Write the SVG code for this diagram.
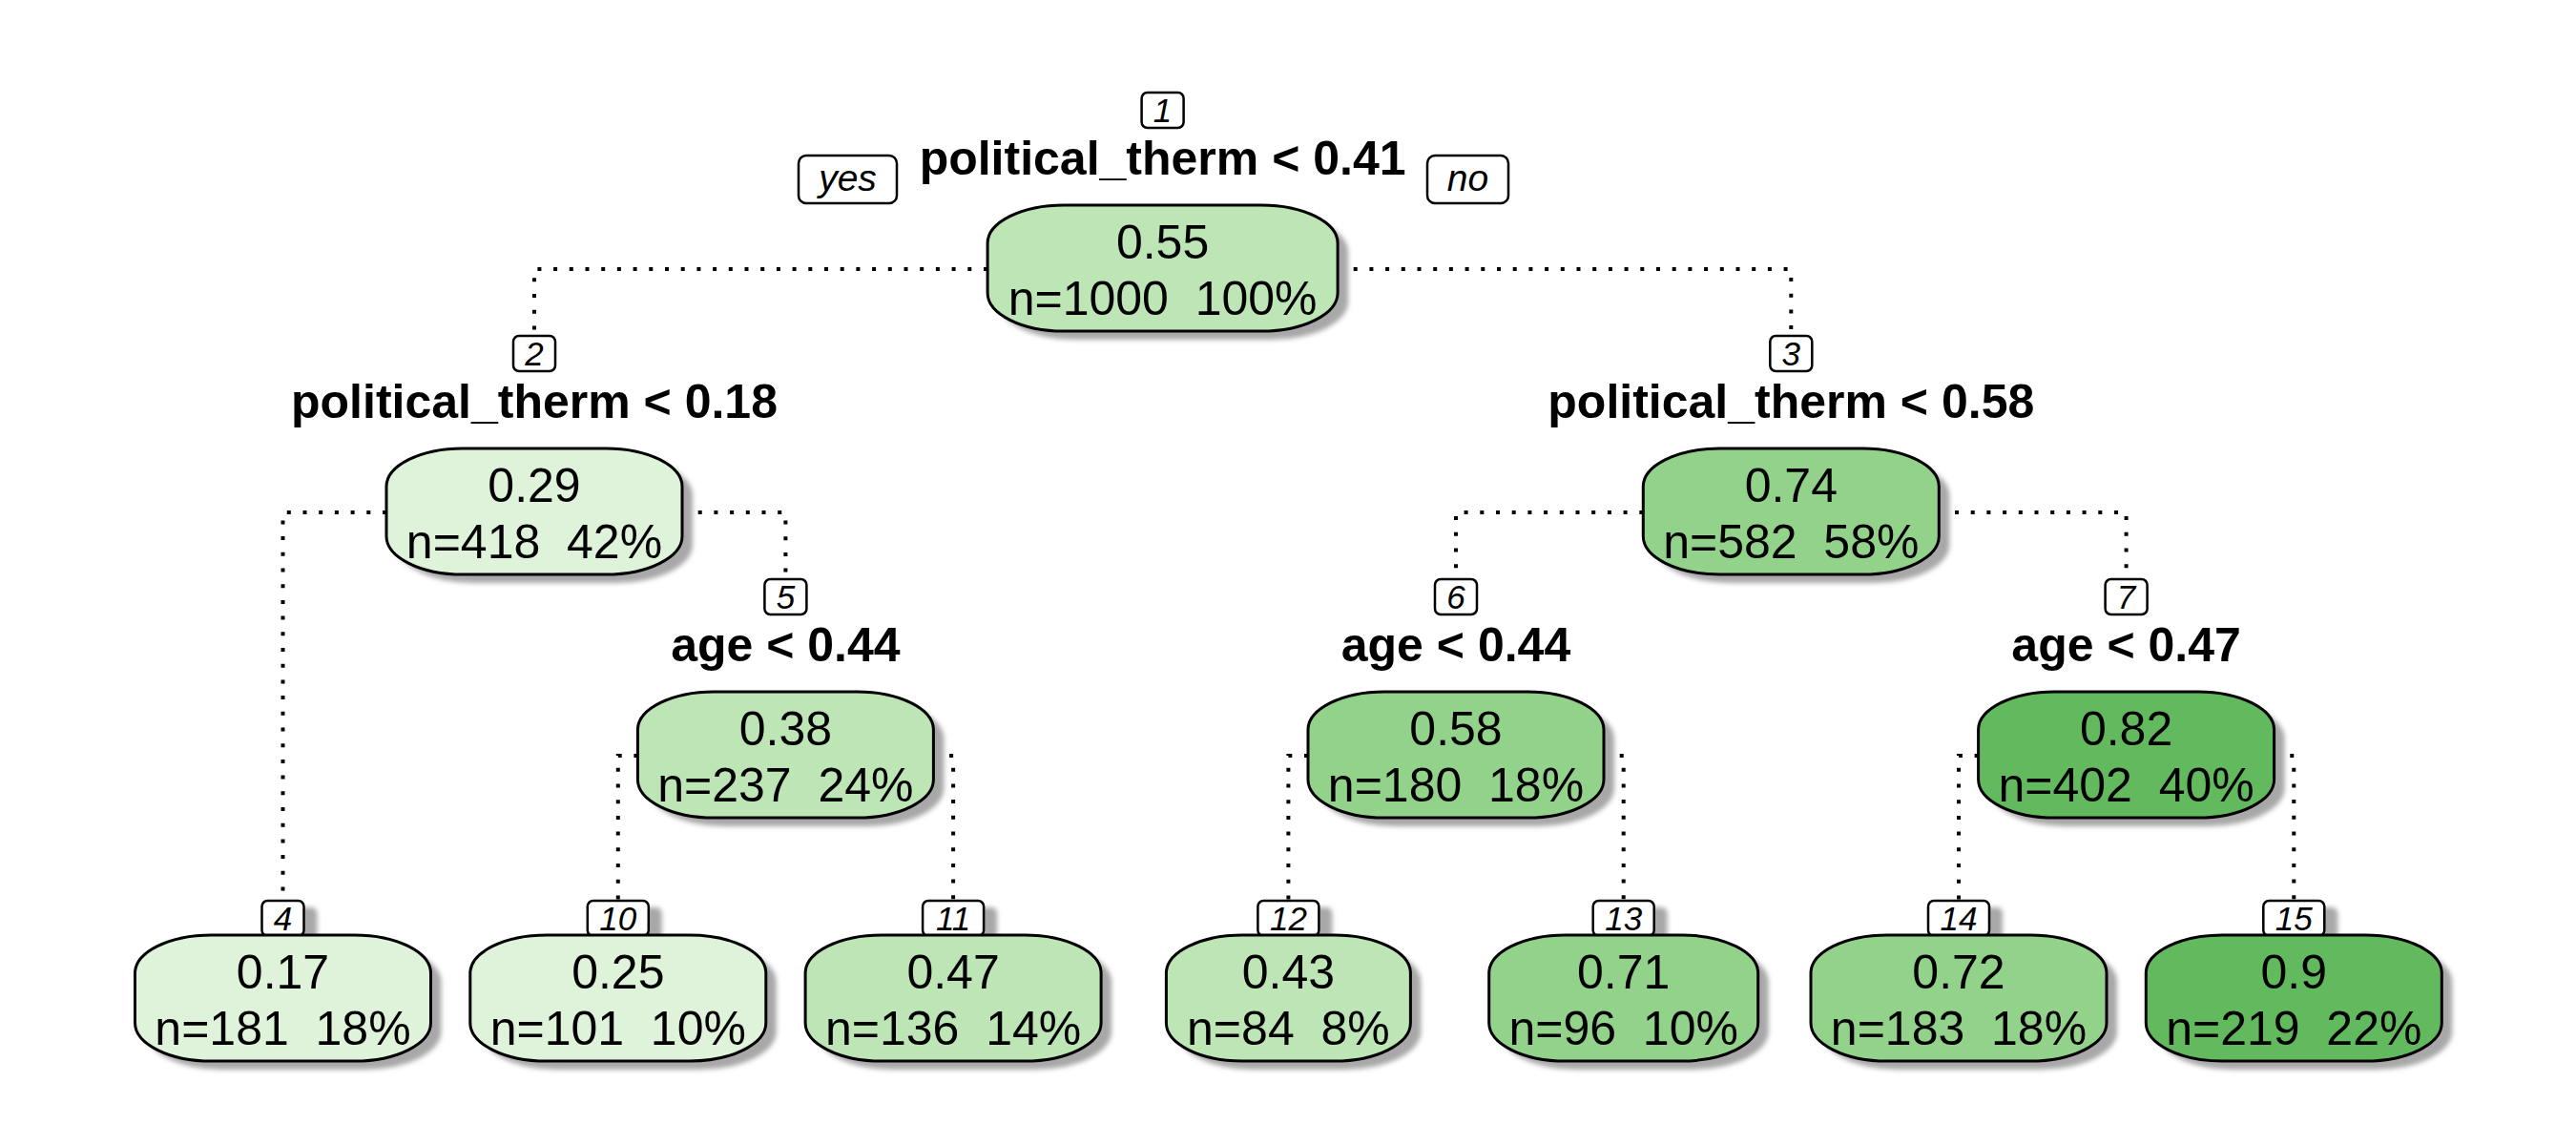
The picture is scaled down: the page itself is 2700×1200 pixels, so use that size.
<svg xmlns="http://www.w3.org/2000/svg" width="2700" height="1200" viewBox="0 0 2700 1200">
<defs>
<filter id="blur" x="-10%" y="-10%" width="120%" height="120%"><feGaussianBlur stdDeviation="2.5"/></filter>
</defs>
<style>
text{font-family:"Liberation Sans",Arial,Helvetica,sans-serif;fill:#000;white-space:pre}
.val{font-size:50px;text-anchor:middle}
.lab{font-size:50px;font-weight:bold;text-anchor:middle}
.num{font-size:35px;font-style:italic;text-anchor:middle}
.yn{font-size:39px;font-style:italic;text-anchor:middle}
.box{stroke:#000;stroke-width:3}
.sh{fill:#a8a8a8;filter:url(#blur)}
.nb{fill:#fff;stroke:#000;stroke-width:2.5}
.c1{fill:#dff2da}
.c2{fill:#bde5b5}
.c3{fill:#93d28a}
.c4{fill:#63ba5e}
.conn{fill:none;stroke:#000;stroke-width:4;stroke-dasharray:4 12.7}
</style>
<rect width="2700" height="1200" fill="#fff"/>
<g id="connectors">
<path class="conn" d="M1035 282 H560 V352"/>
<path class="conn" d="M1402 282 H1877.3 V352"/>
<path class="conn" d="M405 537 H296.5 V944"/>
<path class="conn" d="M715 537 H823.4 V607"/>
<path class="conn" d="M1722.3 537 H1526 V607"/>
<path class="conn" d="M2032.3 537 H2228.6 V607"/>
<path class="conn" d="M668.4 792 H647.8 V944"/>
<path class="conn" d="M978.4 792 H999.1 V944"/>
<path class="conn" d="M1371 792 H1350.4 V944"/>
<path class="conn" d="M1681 792 H1701.7 V944"/>
<path class="conn" d="M2073.6 792 H2053 V944"/>
<path class="conn" d="M2383.6 792 H2404.3 V944"/>
</g>
<g id="yes-no">
<rect class="nb" x="837" y="163" width="103" height="50" rx="8"/>
<text class="yn" x="888.5" y="200">yes</text>
<rect class="nb" x="1496" y="163" width="85" height="50" rx="8"/>
<text class="yn" x="1538.5" y="200">no</text>
</g>
<g id="node-1">
<rect class="nb" x="1196.6" y="97" width="44" height="37" rx="6"/>
<text class="num" x="1218.6" y="128">1</text>
<text class="lab" x="1218.6" y="183">political_therm &lt; 0.41</text>
<rect class="sh" x="1046.1" y="224" width="367" height="132" rx="80" ry="40"/>
<rect class="box c2" x="1035.1" y="215" width="367" height="132" rx="80" ry="40"/>
<text class="val" x="1218.6" y="271">0.55</text>
<text class="val" x="1218.6" y="330">n=1000  100%</text>
</g>
<g id="node-2">
<rect class="nb" x="538" y="352" width="44" height="37" rx="6"/>
<text class="num" x="560" y="383">2</text>
<text class="lab" x="560" y="438">political_therm &lt; 0.18</text>
<rect class="sh" x="416" y="479" width="310" height="132" rx="80" ry="40"/>
<rect class="box c1" x="405" y="470" width="310" height="132" rx="80" ry="40"/>
<text class="val" x="560" y="526">0.29</text>
<text class="val" x="560" y="585">n=418  42%</text>
</g>
<g id="node-3">
<rect class="nb" x="1855.3" y="352" width="44" height="37" rx="6"/>
<text class="num" x="1877.3" y="383">3</text>
<text class="lab" x="1877.3" y="438">political_therm &lt; 0.58</text>
<rect class="sh" x="1733.3" y="479" width="310" height="132" rx="80" ry="40"/>
<rect class="box c3" x="1722.3" y="470" width="310" height="132" rx="80" ry="40"/>
<text class="val" x="1877.3" y="526">0.74</text>
<text class="val" x="1877.3" y="585">n=582  58%</text>
</g>
<g id="node-5">
<rect class="nb" x="801.4" y="607" width="44" height="37" rx="6"/>
<text class="num" x="823.4" y="638">5</text>
<text class="lab" x="823.4" y="693">age &lt; 0.44</text>
<rect class="sh" x="679.4" y="734" width="310" height="132" rx="80" ry="40"/>
<rect class="box c2" x="668.4" y="725" width="310" height="132" rx="80" ry="40"/>
<text class="val" x="823.4" y="781">0.38</text>
<text class="val" x="823.4" y="840">n=237  24%</text>
</g>
<g id="node-6">
<rect class="nb" x="1504" y="607" width="44" height="37" rx="6"/>
<text class="num" x="1526" y="638">6</text>
<text class="lab" x="1526" y="693">age &lt; 0.44</text>
<rect class="sh" x="1382" y="734" width="310" height="132" rx="80" ry="40"/>
<rect class="box c3" x="1371" y="725" width="310" height="132" rx="80" ry="40"/>
<text class="val" x="1526" y="781">0.58</text>
<text class="val" x="1526" y="840">n=180  18%</text>
</g>
<g id="node-7">
<rect class="nb" x="2206.6" y="607" width="44" height="37" rx="6"/>
<text class="num" x="2228.6" y="638">7</text>
<text class="lab" x="2228.6" y="693">age &lt; 0.47</text>
<rect class="sh" x="2084.6" y="734" width="310" height="132" rx="80" ry="40"/>
<rect class="box c4" x="2073.6" y="725" width="310" height="132" rx="80" ry="40"/>
<text class="val" x="2228.6" y="781">0.82</text>
<text class="val" x="2228.6" y="840">n=402  40%</text>
</g>
<g id="node-4">
<rect class="sh" x="288.5" y="951" width="44" height="37" rx="6"/>
<rect class="nb" x="274.5" y="944" width="44" height="37" rx="6"/>
<text class="num" x="296.5" y="975">4</text>
<rect class="sh" x="152.5" y="989" width="310" height="132" rx="80" ry="40"/>
<rect class="box c1" x="141.5" y="980" width="310" height="132" rx="80" ry="40"/>
<text class="val" x="296.5" y="1036">0.17</text>
<text class="val" x="296.5" y="1095">n=181  18%</text>
</g>
<g id="node-10">
<rect class="sh" x="629.8" y="951" width="64" height="37" rx="6"/>
<rect class="nb" x="615.8" y="944" width="64" height="37" rx="6"/>
<text class="num" x="647.8" y="975">10</text>
<rect class="sh" x="503.8" y="989" width="310" height="132" rx="80" ry="40"/>
<rect class="box c1" x="492.8" y="980" width="310" height="132" rx="80" ry="40"/>
<text class="val" x="647.8" y="1036">0.25</text>
<text class="val" x="647.8" y="1095">n=101  10%</text>
</g>
<g id="node-11">
<rect class="sh" x="981.1" y="951" width="64" height="37" rx="6"/>
<rect class="nb" x="967.1" y="944" width="64" height="37" rx="6"/>
<text class="num" x="999.1" y="975">11</text>
<rect class="sh" x="855.1" y="989" width="310" height="132" rx="80" ry="40"/>
<rect class="box c2" x="844.1" y="980" width="310" height="132" rx="80" ry="40"/>
<text class="val" x="999.1" y="1036">0.47</text>
<text class="val" x="999.1" y="1095">n=136  14%</text>
</g>
<g id="node-12">
<rect class="sh" x="1332.4" y="951" width="64" height="37" rx="6"/>
<rect class="nb" x="1318.4" y="944" width="64" height="37" rx="6"/>
<text class="num" x="1350.4" y="975">12</text>
<rect class="sh" x="1233.4" y="989" width="256" height="132" rx="80" ry="40"/>
<rect class="box c2" x="1222.4" y="980" width="256" height="132" rx="80" ry="40"/>
<text class="val" x="1350.4" y="1036">0.43</text>
<text class="val" x="1350.4" y="1095">n=84  8%</text>
</g>
<g id="node-13">
<rect class="sh" x="1683.7" y="951" width="64" height="37" rx="6"/>
<rect class="nb" x="1669.7" y="944" width="64" height="37" rx="6"/>
<text class="num" x="1701.7" y="975">13</text>
<rect class="sh" x="1571.7" y="989" width="282" height="132" rx="80" ry="40"/>
<rect class="box c3" x="1560.7" y="980" width="282" height="132" rx="80" ry="40"/>
<text class="val" x="1701.7" y="1036">0.71</text>
<text class="val" x="1701.7" y="1095">n=96  10%</text>
</g>
<g id="node-14">
<rect class="sh" x="2035" y="951" width="64" height="37" rx="6"/>
<rect class="nb" x="2021" y="944" width="64" height="37" rx="6"/>
<text class="num" x="2053" y="975">14</text>
<rect class="sh" x="1909" y="989" width="310" height="132" rx="80" ry="40"/>
<rect class="box c3" x="1898" y="980" width="310" height="132" rx="80" ry="40"/>
<text class="val" x="2053" y="1036">0.72</text>
<text class="val" x="2053" y="1095">n=183  18%</text>
</g>
<g id="node-15">
<rect class="sh" x="2386.3" y="951" width="64" height="37" rx="6"/>
<rect class="nb" x="2372.3" y="944" width="64" height="37" rx="6"/>
<text class="num" x="2404.3" y="975">15</text>
<rect class="sh" x="2260.3" y="989" width="310" height="132" rx="80" ry="40"/>
<rect class="box c4" x="2249.3" y="980" width="310" height="132" rx="80" ry="40"/>
<text class="val" x="2404.3" y="1036">0.9</text>
<text class="val" x="2404.3" y="1095">n=219  22%</text>
</g>
</svg>
